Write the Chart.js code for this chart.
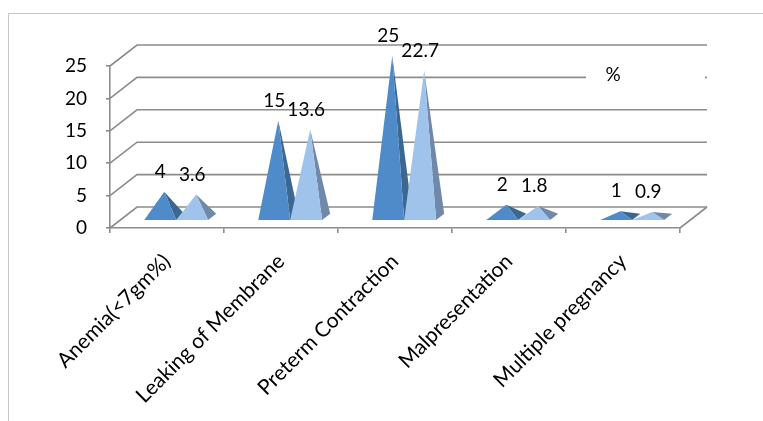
<!DOCTYPE html>
<html>
<head>
<meta charset="utf-8">
<script src="https://cdn.jsdelivr.net/npm/chart.js@4.4.1/dist/chart.umd.min.js"></script>
<style>
  html, body { margin: 0; background: #fff; }
  #wrap { width: 763px; height: 421px; position: relative; }
</style>
</head>
<body>
<div id="wrap"><canvas id="chart"></canvas></div>
<script>
// 3D-looking pyramid column chart, Excel style. Chart.js lays out the
// scales and bar slots; a plugin turns each slot into a pyramid.

const categories = ["Anemia(<7gm%)", "Leaking of Membrane", "Preterm Contraction", "Malpresentation", "Multiple pregnancy"];
const countValues = [4, 15, 25, 2, 1];
const percentValues = [3.6, 13.6, 22.7, 1.8, 0.9];
const seriesNames = ["%", ""];
const yTicks = [0, 5, 10, 15, 20, 25];

const DEPTH = { dx: 27, dy: -21 };   // back wall offset from the front plane
const FRONT = 0.34, BACK = 0.64;     // pyramid base depth, as fraction of DEPTH
const GRID = "#8c8c8c";
const FONT = { family: "Lato", size: 19 };
const CAT_FONT = { family: "Lato", size: 21 };
const FACES = [
  { front: "#4f8bc9", side: "#3b6892" },
  { front: "#9fc3ea", side: "#7089aa" },
];

function tri(ctx, pts, color) {
  ctx.beginPath();
  ctx.moveTo(pts[0][0], pts[0][1]);
  ctx.lineTo(pts[1][0], pts[1][1]);
  ctx.lineTo(pts[2][0], pts[2][1]);
  ctx.closePath();
  ctx.fillStyle = color;
  ctx.fill();
}

const wallPlugin = {
  id: "wall",
  beforeDatasetsDraw(chart) {
    const { ctx, chartArea: a, scales: { y } } = chart;
    ctx.save();
    // outer chart frame (runs off the right and bottom edges)
    ctx.strokeStyle = "#c6c6c6";
    ctx.lineWidth = 1;
    ctx.beginPath();
    ctx.moveTo(8.5, chart.height);
    ctx.lineTo(8.5, 13.5);
    ctx.lineTo(chart.width, 13.5);
    ctx.stroke();

    // side wall + back wall gridlines
    ctx.strokeStyle = GRID;
    ctx.lineWidth = 1.6;
    yTicks.forEach(v => {
      const py = y.getPixelForValue(v);
      ctx.beginPath();
      ctx.moveTo(a.left, py);
      ctx.lineTo(a.left + DEPTH.dx, py + DEPTH.dy);
      ctx.lineTo(a.right + DEPTH.dx, py + DEPTH.dy);
      ctx.stroke();
    });
    // floor right edge
    ctx.beginPath();
    ctx.moveTo(a.right, a.bottom);
    ctx.lineTo(a.right + DEPTH.dx, a.bottom + DEPTH.dy);
    ctx.stroke();

    // legend box sits on the back wall
    ctx.fillStyle = "#fff";
    ctx.fillRect(586, 70, 119, 14);
    ctx.fillStyle = "#000";
    ctx.font = `${FONT.size}px ${FONT.family}`;
    ctx.textAlign = "center";
    ctx.textBaseline = "middle";
    ctx.fillText(seriesNames[0], 613, 75);
    ctx.restore();
  },
  afterDatasetsDraw(chart) {
    const { ctx } = chart;
    const fx = DEPTH.dx * FRONT, fy = DEPTH.dy * FRONT;
    const bx = DEPTH.dx * BACK, by = DEPTH.dy * BACK;
    const mx = (fx + bx) / 2, my = (fy + by) / 2;
    const labels = [];
    ctx.save();
    categories.forEach((_, i) => {
      [0, 1].forEach(d => {
        const bar = chart.getDatasetMeta(d).data[i];
        const { x, y, base, width } = bar.getProps(["x", "y", "base", "width"], true);
        const l = x - width / 2, r = x + width / 2;
        const apex = [x + mx, y + my];
        const FL = [l + fx, base + fy], FR = [r + fx, base + fy], BR = [r + bx, base + by];
        tri(ctx, [FR, BR, apex], FACES[d].side);
        tri(ctx, [FL, FR, apex], FACES[d].front);
        labels.push({ text: String(chart.data.datasets[d].data[i]), x: x + fx, y: apex[1] - 20 });
      });
    });
    ctx.fillStyle = "#000";
    ctx.font = `${FONT.size}px ${FONT.family}`;
    ctx.textAlign = "center";
    ctx.textBaseline = "middle";
    labels.forEach(t => ctx.fillText(t.text, t.x, t.y));
    ctx.restore();
  },
};

new Chart(document.getElementById("chart"), {
  type: "bar",
  data: {
    labels: categories,
    datasets: [
      { label: seriesNames[0], data: countValues, backgroundColor: "rgba(0,0,0,0)" },
      { label: seriesNames[1], data: percentValues, backgroundColor: "rgba(0,0,0,0)" },
    ],
  },
  options: {
    responsive: true,
    maintainAspectRatio: false,
    animation: false,
    layout: { padding: { top: 66, right: 83, bottom: 0, left: 0 } },
    datasets: { bar: { categoryPercentage: 0.56, barPercentage: 1 } },
    plugins: { legend: { display: false }, tooltip: { enabled: false } },
    scales: {
      x: {
        afterFit: s => { s.height = 193; },
        grid: { drawOnChartArea: false, offset: true, color: GRID, lineWidth: 1.6, tickLength: 5 },
        border: { display: true, color: GRID, width: 1.6 },
        ticks: { color: "#000", font: CAT_FONT, minRotation: 45, maxRotation: 45, padding: 16 },
      },
      y: {
        min: 0, max: 25,
        afterFit: s => { s.width = 110; },
        grid: { drawOnChartArea: false, color: GRID, lineWidth: 1.6, tickLength: 4 },
        border: { display: true, color: GRID, width: 1.6 },
        ticks: { color: "#000", font: FONT, stepSize: 5, padding: 19 },
      },
    },
  },
  plugins: [wallPlugin],
});
</script>
</body>
</html>
